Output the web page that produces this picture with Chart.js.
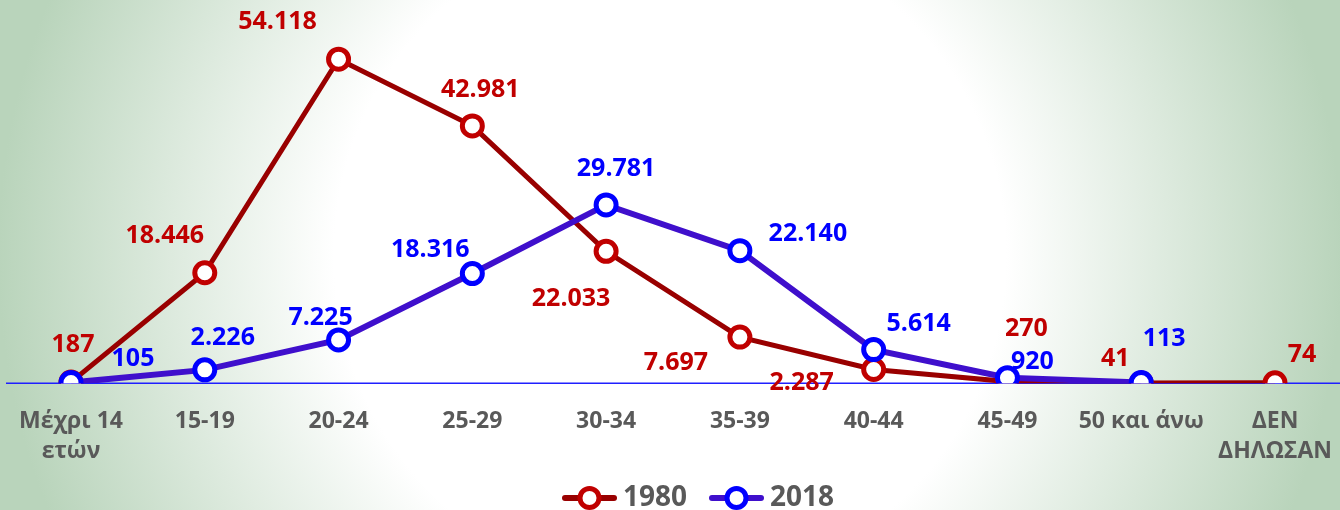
<!DOCTYPE html>
<html>
<head>
<meta charset="utf-8">
<script src="https://cdn.jsdelivr.net/npm/chart.js@4"></script>
<style>
html, body { margin: 0; padding: 0; overflow: hidden; }
#wrap {
    position: relative;
    width: 1340px;
    height: 522px;
    background: radial-gradient(circle 700px at 50% 49%, #ffffff 48%, #b9d4bb 96%);
}
</style>
</head>
<body>
<div id="wrap"><canvas id="chart"></canvas></div>
<script>
const categories = [['Μέχρι 14', 'ετών'], '15-19', '20-24', '25-29', '30-34', '35-39', '40-44', '45-49', '50 και άνω', ['ΔΕΝ', 'ΔΗΛΩΣΑΝ']];
const values1980 = [187, 18446, 54118, 42981, 22033, 7697, 2287, 270, 41, 74];
const values2018 = [105, 2226, 7225, 18316, 29781, 22140, 5614, 920, 113, null];
const seriesNames = ['1980', '2018'];

// where each value label sits, relative to its point (dx, dy)
const labelOffsets = [
    [[2, -37], [-40, -37], [-61, -37], [8, -36], [-35, 48], [-64, 26], [-72, 13], [19, -53], [-26, -24], [27, -28]],
    [[62, -24], [18, -32], [-18, -22], [-42, -24], [10, -36], [68, -17], [45, -26], [25, -16], [23, -44], [0, 0]]
];
const labelColors = ['#c00000', '#0000ff'];

const fontFamily = "'Open Sans', sans-serif";
Chart.defaults.font.family = fontFamily;

const fmt = v => String(v).replace(/\B(?=(\d{3})+(?!\d))/g, '.');

// legend symbol: short line with a ring
function legendIcon(lineColor, pointColor) {
    const c = document.createElement('canvas');
    c.width = 71;
    c.height = 26;
    const g = c.getContext('2d');
    g.strokeStyle = lineColor;
    g.lineWidth = 6;
    g.lineCap = 'round';
    g.beginPath();
    g.moveTo(18, 13);
    g.lineTo(67, 13);
    g.stroke();
    g.beginPath();
    g.arc(42.5, 13, 9.5, 0, Math.PI * 2);
    g.fillStyle = '#ffffff';
    g.fill();
    g.lineWidth = 5;
    g.strokeStyle = pointColor;
    g.stroke();
    return c;
}
const icons = [legendIcon('#990000', '#c00000'), legendIcon('#3f0fcc', '#0000ff')];

const baseLine = {
    id: 'baseLine',
    beforeDatasetsDraw(chart) {
        const ctx = chart.ctx;
        const y = chart.scales.y.getPixelForValue(0);
        ctx.save();
        ctx.strokeStyle = '#1f1fff';
        ctx.lineWidth = 1.5;
        ctx.beginPath();
        ctx.moveTo(6, y);
        ctx.lineTo(chart.width, y);
        ctx.stroke();
        ctx.restore();
    }
};

// the legend sits a little right of centre in the original
const legendShift = {
    id: 'legendShift',
    afterLayout(chart) {
        chart.legend.left += 44;
    }
};

const valueLabels = {
    id: 'valueLabels',
    afterDatasetsDraw(chart) {
        const ctx = chart.ctx;
        ctx.save();
        ctx.font = 'bold 25px ' + fontFamily;
        ctx.textAlign = 'center';
        ctx.textBaseline = 'middle';
        chart.data.datasets.forEach((ds, di) => {
            const meta = chart.getDatasetMeta(di);
            ctx.fillStyle = labelColors[di];
            meta.data.forEach((pt, i) => {
                const v = ds.data[i];
                if (v === null) return;
                const [dx, dy] = labelOffsets[di][i];
                ctx.fillText(fmt(v), pt.x + dx, pt.y + dy);
            });
        });
        ctx.restore();
    }
};

new Chart(document.getElementById('chart'), {
    type: 'line',
    data: {
        labels: categories,
        datasets: [{
            label: seriesNames[0],
            data: values1980,
            borderColor: '#990000',
            borderWidth: 5,
            pointRadius: 10,
            pointBorderWidth: 5,
            pointBorderColor: '#c00000',
            pointBackgroundColor: '#ffffff',
            tension: 0,
            order: 2
        }, {
            label: seriesNames[1],
            data: values2018,
            borderColor: '#3f0fcc',
            borderWidth: 6,
            pointRadius: 10,
            pointBorderWidth: 5,
            pointBorderColor: '#0000ff',
            pointBackgroundColor: '#ffffff',
            tension: 0,
            order: 1
        }]
    },
    options: {
        responsive: true,
        maintainAspectRatio: false,
        animation: false,
        layout: { padding: { top: 24, left: 71, right: 65, bottom: 0 } },
        plugins: {
            tooltip: { enabled: false },
            legend: {
                position: 'bottom',
                labels: {
                    usePointStyle: true,
                    pointStyleWidth: 53,
                    padding: 16,
                    color: '#595959',
                    font: { size: 28, weight: 'bold' },
                    generateLabels: chart => chart.data.datasets.map((ds, i) => ({
                        text: ds.label,
                        pointStyle: icons[i],
                        datasetIndex: i,
                        fontColor: '#595959',
                        hidden: false,
                        lineWidth: 0,
                        strokeStyle: 'transparent',
                        fillStyle: 'transparent'
                    }))
                }
            }
        },
        scales: {
            x: {
                offset: false,
                grid: { display: false, tickLength: 21 },
                border: { display: false },
                ticks: {
                    color: '#595959',
                    padding: 2,
                    maxRotation: 0,
                    autoSkip: false,
                    font: { size: 23, weight: 'bold', lineHeight: 1.3 }
                }
            },
            y: { display: false, min: 0, max: 60000 }
        }
    },
    plugins: [baseLine, legendShift, valueLabels]
});
</script>
</body>
</html>
